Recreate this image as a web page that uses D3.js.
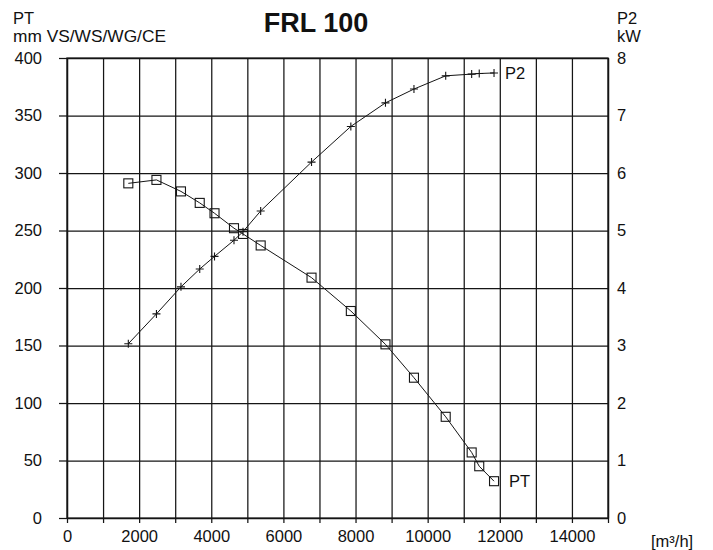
<!DOCTYPE html>
<html>
<head>
<meta charset="utf-8">
<script src="https://cdn.jsdelivr.net/npm/d3@7"></script>
<style>
  html, body { margin: 0; padding: 0; background: #fff; }
  svg { display: block; }
  text { font-family: "Liberation Sans", Arial, Helvetica, sans-serif; fill: #111; }
</style>
</head>
<body>
<script>
// Fan curve FRL 100: total pressure PT and shaft power P2 against air flow
const flow = [1700, 2480, 3160, 3680, 4090, 4630, 4880, 5370, 6780, 7870, 8830, 9620, 10500, 11220, 11430, 11840];
const pressure = [291, 294, 284, 274, 265, 252, 247, 237, 209, 180, 151, 122, 88, 57, 45, 32];
const power = [3.03, 3.55, 4.02, 4.33, 4.55, 4.83, 4.98, 5.34, 6.19, 6.81, 7.22, 7.46, 7.69, 7.72, 7.73, 7.74];

const flowTicks = [0, 2000, 4000, 6000, 8000, 10000, 12000, 14000];
const flowGrid = d3.range(0, 15001, 1000);
const pressureTicks = d3.range(0, 401, 50);
const powerTicks = [0, 1, 2, 3, 4, 5, 6, 7, 8];

const W = 713, H = 550;
const m = { top: 58, right: 105, bottom: 32, left: 67 };
const iw = W - m.left - m.right;
const ih = H - m.top - m.bottom;

const svg = d3.select("body").append("svg").attr("width", W).attr("height", H);
const g = svg.append("g").attr("transform", `translate(${m.left},${m.top})`);

const x = d3.scaleLinear().domain([0, 15000]).range([0, iw]);
const yPT = d3.scaleLinear().domain([0, 400]).range([ih, 0]);
const yP2 = d3.scaleLinear().domain([0, 8]).range([ih, 0]);

const ink = "#151515";
const fontFam = "'Liberation Sans', Arial, sans-serif";
const tickFont = 16.5;
const labelFont = 16.5;

// grid
g.append("g").attr("class", "grid-x")
  .call(d3.axisBottom(x).tickValues(flowGrid).tickSize(ih).tickFormat(""))
  .call(s => s.select(".domain").remove())
  .call(s => s.selectAll("line").attr("stroke", ink).attr("stroke-width", 1.25));

g.append("g").attr("class", "grid-y")
  .call(d3.axisRight(yPT).tickValues(pressureTicks).tickSize(iw).tickFormat(""))
  .call(s => s.select(".domain").remove())
  .call(s => s.selectAll("line").attr("stroke", ink).attr("stroke-width", 1.25));

// small tick stubs below the baseline
g.append("g").attr("transform", `translate(0,${ih})`)
  .call(d3.axisBottom(x).tickValues(flowGrid).tickSize(5).tickFormat(""))
  .call(s => s.select(".domain").remove())
  .call(s => s.selectAll("line").attr("stroke", ink).attr("stroke-width", 1.25));

// x labels
g.append("g").attr("transform", `translate(0,${ih})`)
  .call(d3.axisBottom(x).tickValues(flowTicks).tickSize(0).tickPadding(12).tickFormat(d3.format("d")))
  .call(s => s.select(".domain").remove())
  .call(s => s.selectAll("text").attr("font-size", tickFont).attr("fill", ink)
      .attr("font-family", fontFam));

// left axis
g.append("g")
  .call(d3.axisLeft(yPT).tickValues(pressureTicks).tickSize(8).tickPadding(17).tickSizeOuter(0))
  .call(s => s.select(".domain").attr("stroke", ink).attr("stroke-width", 1.3))
  .call(s => s.selectAll("line").attr("stroke", ink).attr("stroke-width", 1.25))
  .call(s => s.selectAll("text").attr("font-size", tickFont).attr("fill", ink)
      .attr("font-family", fontFam));

// right axis
g.append("g").attr("transform", `translate(${iw},0)`)
  .call(d3.axisRight(yP2).tickValues(powerTicks).tickSize(0).tickPadding(9).tickSizeOuter(0))
  .call(s => s.select(".domain").attr("stroke", ink).attr("stroke-width", 1.3))
  .call(s => s.selectAll("text").attr("font-size", tickFont).attr("fill", ink)
      .attr("font-family", fontFam));

// frame
g.append("rect").attr("width", iw).attr("height", ih)
  .attr("fill", "none").attr("stroke", ink).attr("stroke-width", 1.3);

// PT curve
const ptData = flow.map((f, i) => [f, pressure[i]]);
g.append("path").datum(ptData)
  .attr("fill", "none").attr("stroke", ink).attr("stroke-width", 1)
  .attr("d", d3.line().x(d => x(d[0])).y(d => yPT(d[1])));
g.selectAll(".sq").data(ptData).join("rect").attr("class", "sq")
  .attr("x", d => x(d[0]) - 4.5).attr("y", d => yPT(d[1]) - 4.5)
  .attr("width", 9).attr("height", 9)
  .attr("fill", "none").attr("stroke", ink).attr("stroke-width", 1.1);

// P2 curve
const p2Data = flow.map((f, i) => [f, power[i]]);
g.append("path").datum(p2Data)
  .attr("fill", "none").attr("stroke", ink).attr("stroke-width", 1)
  .attr("d", d3.line().x(d => x(d[0])).y(d => yP2(d[1])));
g.selectAll(".plus").data(p2Data).join("path").attr("class", "plus")
  .attr("transform", d => `translate(${x(d[0])},${yP2(d[1])})`)
  .attr("d", "M-4,0H4M0,-4V4")
  .attr("fill", "none").attr("stroke", ink).attr("stroke-width", 1.1);

// curve labels
const lastP2 = p2Data[p2Data.length - 1];
g.append("text").attr("x", x(lastP2[0]) + 11).attr("y", yP2(lastP2[1]))
  .attr("dy", "0.35em").attr("font-size", labelFont).text("P2");
const lastPT = ptData[ptData.length - 1];
g.append("text").attr("x", x(lastPT[0]) + 15).attr("y", yPT(lastPT[1]))
  .attr("dy", "0.35em").attr("font-size", labelFont).text("PT");

// titles and units
svg.append("text").attr("x", 316).attr("y", 32).attr("text-anchor", "middle")
  .attr("font-size", 27).attr("font-weight", "bold").text("FRL 100");
svg.append("text").attr("x", 13).attr("y", 24).attr("font-size", labelFont).text("PT");
svg.append("text").attr("x", 13).attr("y", 42).attr("font-size", labelFont)
  .attr("textLength", 153).attr("lengthAdjust", "spacingAndGlyphs").text("mm VS/WS/WG/CE");
svg.append("text").attr("x", 617).attr("y", 24).attr("font-size", labelFont).text("P2");
svg.append("text").attr("x", 617).attr("y", 42).attr("font-size", labelFont).text("kW");
svg.append("text").attr("x", 651).attr("y", 541).attr("dy", "0.35em").attr("font-size", labelFont).text("[m³/h]");
</script>
</body>
</html>
